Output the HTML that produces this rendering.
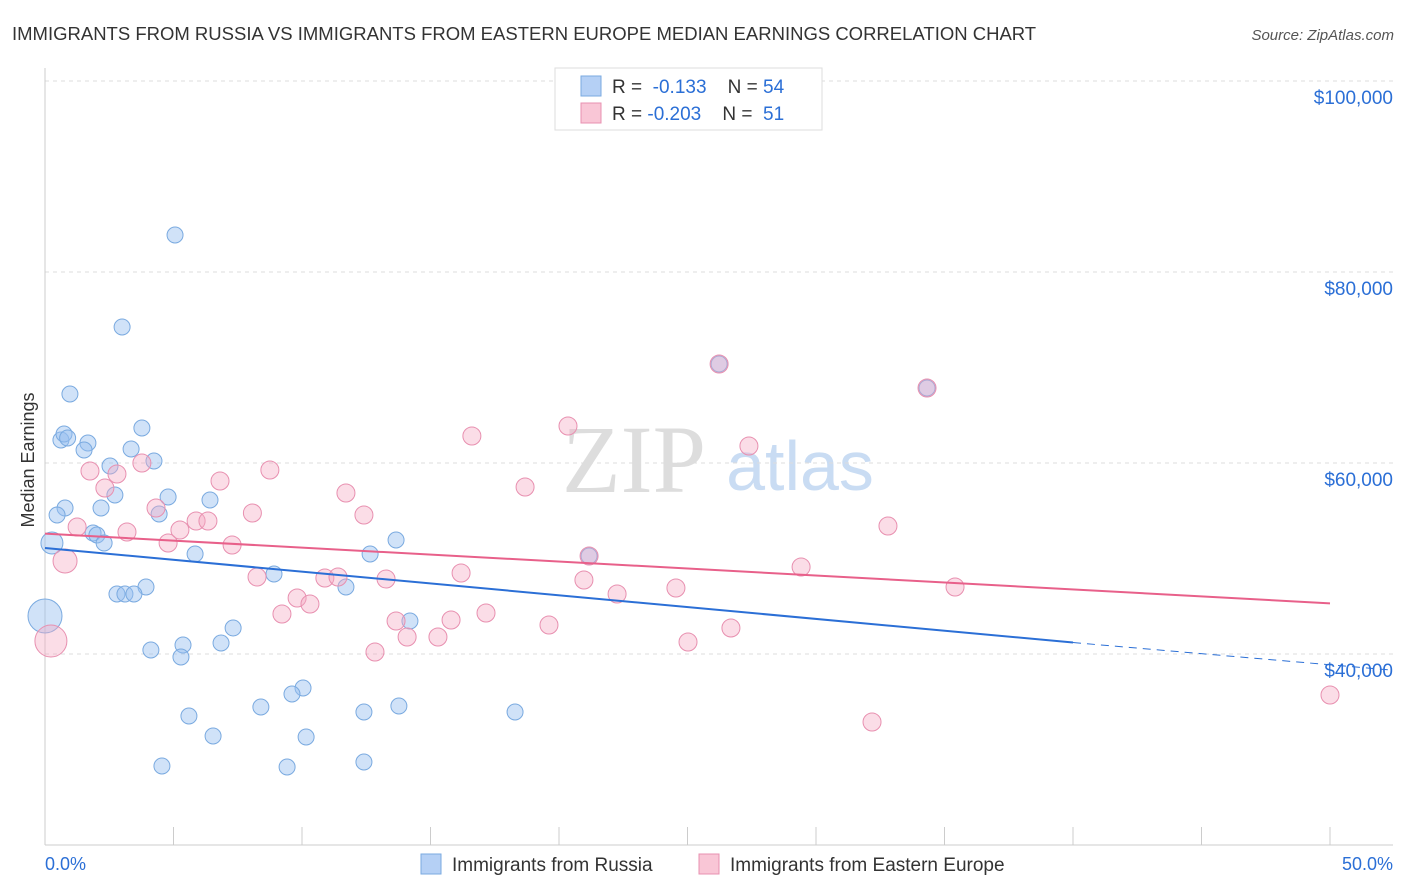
<!DOCTYPE html>
<html><head><meta charset="utf-8"><style>
body{margin:0;background:#fff;font-family:"Liberation Sans",sans-serif;}
svg{display:block}
</style></head><body>
<svg id="chart" width="1406" height="892">
<text x="12" y="40" font-size="18.5" fill="#333">IMMIGRANTS FROM RUSSIA VS IMMIGRANTS FROM EASTERN EUROPE MEDIAN EARNINGS CORRELATION CHART</text>
<text x="1394" y="40" font-size="15" fill="#555" text-anchor="end" font-style="italic">Source: ZipAtlas.com</text>
<text x="634" y="492" font-size="96" fill="#ddd" font-family="Liberation Serif" text-anchor="middle">ZIP</text>
<text x="800" y="490" font-size="70" fill="#c9dcf3" text-anchor="middle">atlas</text>
<text x="34" y="460" font-size="18" fill="#333" text-anchor="middle" transform="rotate(-90 34 460)">Median Earnings</text>
<g id="grid"></g><g id="axes"></g><g id="pts"></g><g id="lines"></g>
<g>
<rect x="555" y="68" width="267" height="62" fill="#fff" stroke="#ddd"/>
<rect x="581" y="76" width="20" height="20" fill="#b5d0f5" stroke="#7aaae0"/>
<rect x="581" y="103" width="20" height="20" fill="#f9c6d6" stroke="#e890b0"/>
<text x="612" y="93" font-size="19" fill="#333">R = <tspan fill="#2b6fd6">&#160;-0.133</tspan>&#160;&#160;&#160;&#160;N = <tspan fill="#2b6fd6">54</tspan></text>
<text x="612" y="120" font-size="19" fill="#333">R = <tspan fill="#2b6fd6">-0.203</tspan>&#160;&#160;&#160;&#160;N = <tspan fill="#2b6fd6">&#160;51</tspan></text>
</g>
<g>
<rect x="421" y="854" width="20" height="20" fill="#b5d0f5" stroke="#7aaae0"/>
<text x="452" y="871" font-size="19" fill="#333">Immigrants from Russia</text>
<rect x="699" y="854" width="20" height="20" fill="#f9c6d6" stroke="#e890b0"/>
<text x="730" y="871" font-size="19" fill="#333">Immigrants from Eastern Europe</text>
</g>
<text x="45" y="870" font-size="18" fill="#2b6fd6">0.0%</text>
<text x="1393" y="870" font-size="18" fill="#2b6fd6" text-anchor="end">50.0%</text>
</svg>
<script>
const yTicks=[40000,60000,80000,100000];
const yTickLabels=["$40,000","$60,000","$80,000","$100,000"];
const russiaX=[5.06,3.0,0.97,0.62,0.74,0.88,1.67,1.52,3.77,3.35,4.24,2.53,2.72,4.79,6.42,0.78,2.18,0.47,4.44,1.87,2.02,2.3,0.27,5.84,12.65,13.66,21.17,8.91,11.71,3.93,2.8,3.11,3.46,0,14.2,7.32,5.37,6.85,4.12,5.29,10.04,9.61,8.4,13.77,5.6,12.41,18.29,6.54,10.16,4.55,9.42,12.41,26.23,34.32];
const russiaY=[83874,74241,67225,62408,63037,62618,62094,61361,63665,61466,60209,59686,56649,56440,56126,55288,55288,54555,54660,52670,52461,51623,51623,50471,50471,51937,50262,48377,47016,47016,46283,46283,46283,43979,43455,42723,40942,41152,40419,39686,36440,35812,34450,34555,33508,33927,33927,31414,31309,28272,28168,28691,70366,67853];
const russiaR=[8,8,8,8,8,8,8,8,8,8,8,8,8,8,8,8,8,8,8,8,8,8,11,8,8,8,8,8,8,8,8,8,8,17,8,8,8,8,8,8,8,8,8,8,8,8,8,8,8,8,8,8,8,8];
const eastX=[0.78,0.23,1.25,1.75,2.33,2.8,3.77,3.19,4.32,4.79,5.25,5.88,6.34,6.81,7.28,8.07,8.25,8.75,9.22,9.81,10.31,10.89,11.4,11.71,12.41,12.84,13.27,13.66,14.09,15.29,15.8,16.19,16.61,17.16,18.68,19.61,20.35,20.97,21.17,22.26,24.55,25.02,26.23,26.69,27.39,29.42,32.18,32.8,34.32,35.41,50];
const eastY=[49738,41361,53298,59162,57382,58848,60000,52775,55288,51623,52984,53927,53927,58115,51414,54764,48063,59267,44188,45864,45236,47958,48063,56859,54555,40209,47853,43455,41780,41780,43560,48482,62827,44293,57487,43037,63874,47749,50262,46283,46911,41256,70366,42723,61780,49110,32880,53403,67853,47016,35707];
const eastR=[12,16,9,9,9,9,9,9,9,9,9,9,9,9,9,9,9,9,9,9,9,9,9,9,9,9,9,9,9,9,9,9,9,9,9,9,9,9,9,9,9,9,9,9,9,9,9,9,9,9,9];
const russiaTrend=[[0,51100],[40,41200],[52.45,38300]];
const eastTrend=[[0,52600],[50,45300]];
const NS="http://www.w3.org/2000/svg";
const X=v=>45+v/50*1285, Y=v=>654-(v-40000)*191/20000;
function mk(tag,attrs,parent){const e=document.createElementNS(NS,tag);for(const k in attrs)e.setAttribute(k,attrs[k]);document.getElementById(parent).appendChild(e);return e;}
yTicks.forEach((t,i)=>{
 const g=mk('line',{x1:45,x2:1393,y1:Y(t),y2:Y(t),stroke:'#ddd','stroke-dasharray':'4,4'},'grid');
 
 
 const l=mk('text',{x:1393,y:Y(t)+23,'font-size':19,fill:'#2b6fd6','text-anchor':'end'},'grid');
 l.textContent=yTickLabels[i];
 
 
});
mk('line',{x1:45,x2:45,y1:68,y2:845,stroke:'#ccc'},'axes');
mk('line',{x1:45,x2:1393,y1:845,y2:845,stroke:'#ccc'},'axes');
for(let i=0;i<=10;i++){const t=mk('line',{x1:X(i*5),x2:X(i*5),y1:827,y2:845,stroke:'#ccc'},'axes');
 
 }
russiaX.forEach((x,i)=>{const c=mk('circle',{cx:X(x),cy:Y(russiaY[i]),r:russiaR[i],fill:'rgba(150,190,240,0.45)',stroke:'#7aaae0','stroke-width':1},'pts');
 
 });
eastX.forEach((x,i)=>{const c=mk('circle',{cx:X(x),cy:Y(eastY[i]),r:eastR[i],fill:'rgba(245,170,195,0.4)',stroke:'#e890b0','stroke-width':1},'pts');
 
 });
const b1=mk('line',{x1:X(russiaTrend[0][0]),y1:Y(russiaTrend[0][1]),x2:X(russiaTrend[1][0]),y2:Y(russiaTrend[1][1]),stroke:'#2b6fd6','stroke-width':2},'lines');


const b2=mk('line',{x1:X(russiaTrend[1][0]),y1:Y(russiaTrend[1][1]),x2:X(russiaTrend[2][0]),y2:Y(russiaTrend[2][1]),stroke:'#2b6fd6','stroke-width':1,'stroke-dasharray':'8,6'},'lines');


const p1=mk('line',{x1:X(eastTrend[0][0]),y1:Y(eastTrend[0][1]),x2:X(eastTrend[1][0]),y2:Y(eastTrend[1][1]),stroke:'#e8608a','stroke-width':2},'lines');


</script>
</body></html>
